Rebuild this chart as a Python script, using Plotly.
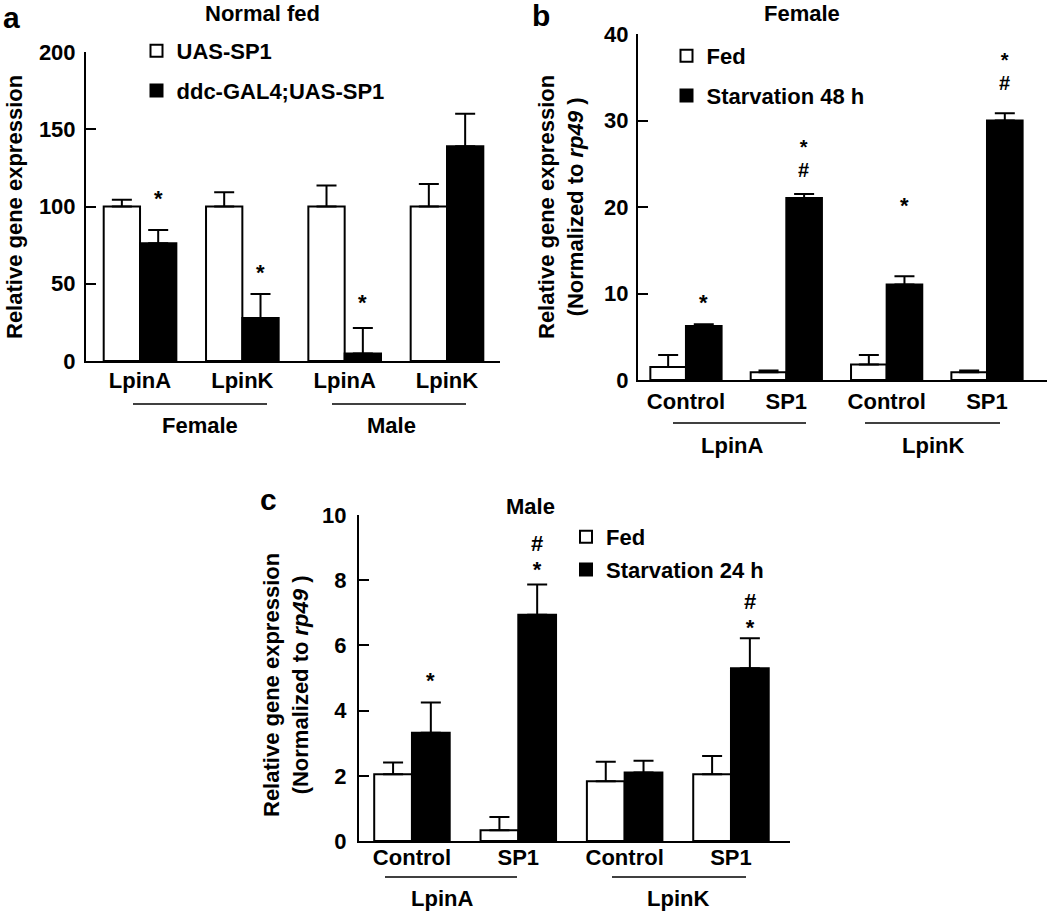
import plotly.graph_objects as go

FONT = "Liberation Sans, Arial, sans-serif"
W, H = 1050, 914

# ---------------- Panel a: Normal fed ----------------
a_keys = ["F_LpinA", "F_LpinK", "M_LpinA", "M_LpinK"]
a_ticks = ["LpinA", "LpinK", "LpinA", "LpinK"]
a_groups = ["Female", "Male"]
a_uas = [100, 100, 100, 100]
a_uas_err = [4.3, 9.3, 13.6, 14.5]
a_ddc = [76.2, 27.9, 4.8, 139]
a_ddc_err = [8.6, 15.4, 16.6, 21]
a_marks = ["*", "*", "*", ""]
a_mark_y = [104.9, 57.4, 38.0, None]

# ---------------- Panel b: Female ----------------
b_keys = ["A_Control", "A_SP1", "K_Control", "K_SP1"]
b_ticks = ["Control", "SP1", "Control", "SP1"]
b_groups = ["LpinA", "LpinK"]
b_fed = [1.5, 0.9, 1.8, 0.9]
b_fed_err = [1.4, 0.2, 1.1, 0.2]
b_starv = [6.25, 21.05, 11.05, 30.0]
b_starv_err = [0.2, 0.45, 0.95, 0.85]
b_marks = ["*", "*|#", "*", "*|#"]
b_mark_y = [8.98, 25.6, 20.15, 35.72]

# ---------------- Panel c: Male ----------------
c_keys = ["A_Control", "A_SP1", "K_Control", "K_SP1"]
c_ticks = ["Control", "SP1", "Control", "SP1"]
c_groups = ["LpinA", "LpinK"]
c_fed = [2.05, 0.33, 1.83, 2.05]
c_fed_err = [0.36, 0.41, 0.6, 0.56]
c_starv = [3.32, 6.94, 2.1, 5.3]
c_starv_err = [0.93, 0.93, 0.36, 0.92]
c_marks = ["*", "#|*", "", "#|*"]
c_mark_y = [4.92, 8.73, None, 6.94]


def px_x(p):
    return p / W


def px_y(p):
    return 1 - p / H


def font(size=22, color="black"):
    return dict(family=FONT, size=size, color=color, weight="bold")


def err(vals):
    return dict(type="data", array=vals, arrayminus=[0] * len(vals), symmetric=False,
                color="black", thickness=2, width=10, visible=True)


fig = go.Figure()

panels = [
    (a_keys, a_uas, a_uas_err, a_ddc, a_ddc_err, ("UAS-SP1", "ddc-GAL4;UAS-SP1"), "x", "y", "legend"),
    (b_keys, b_fed, b_fed_err, b_starv, b_starv_err, ("Fed", "Starvation 48 h"), "x2", "y2", "legend2"),
    (c_keys, c_fed, c_fed_err, c_starv, c_starv_err, ("Fed", "Starvation 24 h"), "x3", "y3", "legend3"),
]
for i, (keys, wv, we, bv, be, names, xa, ya, lg) in enumerate(panels):
    fig.add_trace(go.Bar(x=keys, y=wv, error_y=err(we), name=names[0], xaxis=xa, yaxis=ya,
                         legend=lg, legendgroup=f"w{i}",
                         marker=dict(color="white", line=dict(color="black", width=2))))
    fig.add_trace(go.Bar(x=keys, y=bv, error_y=err(be), name=names[1], xaxis=xa, yaxis=ya,
                         legend=lg, legendgroup=f"b{i}",
                         marker=dict(color="black", line=dict(color="black", width=2))))

axis_common = dict(showline=True, linecolor="black", linewidth=2, showgrid=False,
                   zeroline=False, tickfont=font(22), automargin=False)
yax = dict(ticks="inside", ticklen=10, tickwidth=2, tickcolor="black", **axis_common)
xax = dict(type="category", ticks="", **axis_common)
leg = dict(xanchor="left", yanchor="top", font=font(22), bgcolor="rgba(0,0,0,0)",
           itemwidth=30, traceorder="grouped", borderwidth=0)

fig.update_layout(
    template="none",
    width=W, height=H, margin=dict(l=0, r=0, t=0, b=0, pad=0),
    paper_bgcolor="white", plot_bgcolor="white",
    barmode="group", bargap=0.29, bargroupgap=0,
    showlegend=True,
    xaxis=dict(domain=[px_x(86), px_x(500)], range=[-0.528, 3.518],
               tickvals=a_keys, ticktext=a_ticks, anchor="y", ticklabelstandoff=-1, **xax),
    yaxis=dict(domain=[px_y(361), px_y(52)], range=[0, 200], tickvals=[0, 50, 100, 150, 200],
               anchor="x", ticklabelstandoff=4, **yax),
    xaxis2=dict(domain=[px_x(638), px_x(1047)], range=[-0.478, 3.598],
                tickvals=b_keys, ticktext=b_ticks, anchor="y2", ticklabelstandoff=1, **xax),
    yaxis2=dict(domain=[px_y(380), px_y(34)], range=[0, 40], tickvals=[0, 10, 20, 30, 40],
                anchor="x2", ticklabelstandoff=3, **yax),
    xaxis3=dict(domain=[px_x(359), px_x(790)], range=[-0.498, 3.555],
                tickvals=c_keys, ticktext=c_ticks, anchor="y3", ticklabelstandoff=-4, **xax),
    yaxis3=dict(domain=[px_y(841), px_y(515)], range=[0, 10], tickvals=[0, 2, 4, 6, 8, 10],
                anchor="x3", ticklabelstandoff=6, **yax),
    legend=dict(x=px_x(136.5), y=px_y(30), tracegroupgap=8, **leg),
    legend2=dict(x=px_x(666.5), y=px_y(35), tracegroupgap=8, **leg),
    legend3=dict(x=px_x(566), y=px_y(516), tracegroupgap=1, **leg),
)

ann = []
ann.append(dict(text="a", x=px_x(1), y=px_y(17), xanchor="left", yanchor="middle", font=font(30)))
ann.append(dict(text="b", x=px_x(530), y=px_y(16), xanchor="left", yanchor="middle", font=font(30)))
ann.append(dict(text="c", x=px_x(258), y=px_y(500), xanchor="left", yanchor="middle", font=font(30)))
ann.append(dict(text="Normal fed", x=px_x(262), y=px_y(14), xanchor="center", yanchor="middle", font=font(22)))
ann.append(dict(text="Female", x=px_x(802), y=px_y(14), xanchor="center", yanchor="middle", font=font(22)))
ann.append(dict(text="Male", x=px_x(530), y=px_y(507), xanchor="center", yanchor="middle", font=font(22)))
ann.append(dict(text="Relative gene expression", x=px_x(14), y=px_y(207), textangle=-90,
                xanchor="center", yanchor="middle", font=font(22)))
ann.append(dict(text="Relative gene expression<br>(Normalized to <i>rp49</i> )", x=px_x(561), y=px_y(207),
                textangle=-90, xanchor="center", yanchor="middle", font=font(22)))
ann.append(dict(text="Relative gene expression<br>(Normalized to <i>rp49</i> )", x=px_x(286), y=px_y(685),
                textangle=-90, xanchor="center", yanchor="middle", font=font(22)))
ann.append(dict(text=a_groups[0], x=px_x(200), y=px_y(425), xanchor="center", yanchor="middle", font=font(22)))
ann.append(dict(text=a_groups[1], x=px_x(391), y=px_y(425), xanchor="center", yanchor="middle", font=font(22)))
ann.append(dict(text=b_groups[0], x=px_x(732), y=px_y(445), xanchor="center", yanchor="middle", font=font(22)))
ann.append(dict(text=b_groups[1], x=px_x(933), y=px_y(445), xanchor="center", yanchor="middle", font=font(22)))
ann.append(dict(text=c_groups[0], x=px_x(442), y=px_y(898), xanchor="center", yanchor="middle", font=font(22)))
ann.append(dict(text=c_groups[1], x=px_x(678), y=px_y(898), xanchor="center", yanchor="middle", font=font(22)))
for a in ann:
    a.update(xref="paper", yref="paper", showarrow=False)


def marks(keys, texts, ys, xa, ya, shift, base_size, glyph_size):
    """Significance marks above the black bars; stacked marks share one text,
    with a smaller base font so that the stacked lines sit close together."""
    out = []
    for k, t, y in zip(keys, texts, ys):
        if y is None or not t:
            continue
        parts = t.split("|")
        if len(parts) == 1:
            txt, size = parts[0], 22
        else:
            txt = "<br>".join(f'<span style="font-size:{glyph_size}px">{p}</span>' for p in parts)
            size = base_size
        out.append(dict(text=txt, x=k, y=y, xref=xa, yref=ya, xshift=shift, showarrow=False,
                        xanchor="center", yanchor="middle", font=font(size)))
    return out


ann += marks(a_keys, a_marks, a_mark_y, "x", "y", 18, 22, 22)
ann += marks(b_keys, b_marks, b_mark_y, "x2", "y2", 17.5, 17.5, 20)
ann += marks(c_keys, c_marks, c_mark_y, "x3", "y3", 19, 20, 22)
fig.update_layout(annotations=ann)

shapes = []
for (x0, x1, y) in [(133, 267, 404), (332, 466, 404), (673, 806, 423), (865, 1000, 423),
                    (385, 517, 877), (612, 746, 877)]:
    shapes.append(dict(type="line", xref="paper", yref="paper", x0=px_x(x0), x1=px_x(x1),
                       y0=px_y(y), y1=px_y(y), line=dict(color="black", width=1.5)))
fig.update_layout(shapes=shapes)

fig.write_html("out.html", config={"displayModeBar": False},
               post_script="document.body.style.margin='0';")
